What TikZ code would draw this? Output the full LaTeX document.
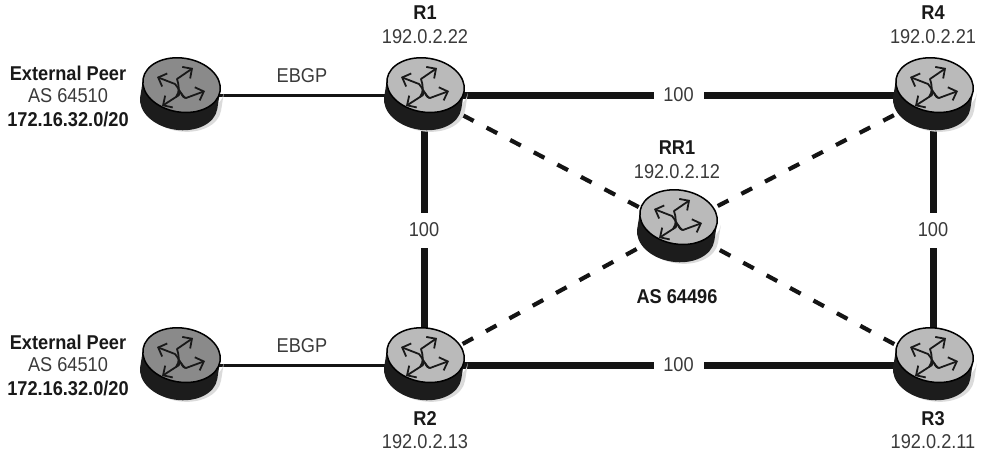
\documentclass[tikz,border=0pt]{standalone}
\usepackage{fontspec}
\setmainfont[FakeStretch=0.91]{Liberation Sans}
\usetikzlibrary{arrows.meta}
\definecolor{routertop}{HTML}{BABABA}
\definecolor{peertop}{HTML}{8A8A8A}
\definecolor{basecol}{HTML}{1C1C1C}
\definecolor{textcol}{HTML}{3A3A3A}
\tikzset{
  routermark/.style={circle,inner sep=0pt,minimum size=60pt},
  trunk/.style={line width=7pt,black!92},
  ebgp/.style={line width=3pt,black!92},
  ibgp/.style={line width=4.2pt,black!92,dash pattern=on 12pt off 14.6pt,dash phase=9.2pt},
  metric/.style={fill=white,inner xsep=0pt,inner ysep=0pt,text=textcol,font=\fontsize{20pt}{22pt}\selectfont},
  hgap/.style={minimum width=50pt,minimum height=12pt},
  vgap/.style={minimum width=40pt,minimum height=35pt},
  plainlabel/.style={font=\fontsize{20pt}{22pt}\selectfont,text=textcol,inner sep=0pt,anchor=center},
  boldlabel/.style={font=\fontsize{20pt}{22pt}\selectfont\bfseries,text=black!90,inner sep=0pt,anchor=center},
  flow/.style={line width=1.8pt,black!90,line join=round,-{Straight Barb[length=7pt,width=14pt,line width=1.8pt]}},
}
\begin{document}
\begin{tikzpicture}[x=1pt,y=-1pt]
\useasboundingbox (0,0) rectangle (985,459);
% router positions
\node[routermark] (p1) at (180,95) {};
\node[routermark] (p2) at (180,365) {};
\node[routermark] (r1) at (424,95) {};
\node[routermark] (r2) at (424,365) {};
\node[routermark] (r3) at (933,365) {};
\node[routermark] (r4) at (933,95) {};
\node[routermark] (rr) at (677,227) {};
% connectors
\draw[ebgp] (p1.center) -- node[pos=.5,yshift=19pt,plainlabel]{EBGP} (r1.center);
\draw[ebgp] (p2.center) -- node[pos=.5,yshift=19pt,plainlabel]{EBGP} (r2.center);
\draw[trunk] (r1.center) -- node[metric,hgap]{100} (r4.center);
\draw[trunk] (r2.center) -- node[metric,hgap]{100} (r3.center);
\draw[trunk] (r1.center) -- node[metric,vgap]{100} (r2.center);
\draw[trunk] (r4.center) -- node[metric,vgap]{100} (r3.center);
\draw[ibgp] (r1.center) -- (rr.center);
\draw[ibgp] (r4.center) -- (rr.center);
\draw[ibgp] (r2.center) -- (rr.center);
\draw[ibgp] (r3.center) -- (rr.center);
% routers
\foreach \n/\c in {p1/peertop,p2/peertop,r1/routertop,r2/routertop,r3/routertop,r4/routertop,rr/routertop}{
  \begin{scope}[shift={(\n.center)}]
    \begin{scope}[rotate=-9]
      \fill[black!14] (-36,-9) -- (-36,9) arc[start angle=180,end angle=0,x radius=39.5,y radius=27] -- (43,-9) arc[start angle=0,end angle=180,x radius=39.5,y radius=27] -- cycle;
      \fill[basecol] (-39,-10) -- (-39,8) arc[start angle=180,end angle=0,x radius=39,y radius=27] -- (39,-10) -- cycle;
      \filldraw[fill=\c,draw=black,line width=1.5pt] (0,-10) ellipse[x radius=39,y radius=27];
    \end{scope}
    \draw[flow] (5,3) .. controls (0,-2) and (-2,-8) .. (-5,-11) -- (-23,-18);
    \draw[flow] (-4,2) .. controls (0,-3) and (-1,-10) .. (-3,-16) -- (13,-27);
    \draw[flow] (1,-2) .. controls (3,2) and (4,3) .. (6,3) -- (25,-4);
    \draw[flow] (0,-3) .. controls (0,0) and (-2,1) .. (-4,2) -- (-18,11);
  \end{scope}
}
% labels
\node[boldlabel] (l1) at (425,13) {R1};
\node[plainlabel] (l2) at (425,37) {192.0.2.22};
\node[boldlabel] (l3) at (933,13) {R4};
\node[plainlabel] (l4) at (933,37) {192.0.2.21};
\node[boldlabel] (l5) at (677,148) {RR1};
\node[plainlabel] (l6) at (677,172) {192.0.2.12};
\node[boldlabel] (l7) at (677,297) {AS 64496};
\node[boldlabel] (l8) at (425,419) {R2};
\node[plainlabel] (l9) at (425,442) {192.0.2.13};
\node[boldlabel] (l10) at (933,419) {R3};
\node[plainlabel] (l11) at (933,442) {192.0.2.11};
\node[boldlabel] (l12) at (68,73) {External Peer};
\node[plainlabel] (l13) at (68,96) {AS 64510};
\node[boldlabel] (l14) at (68,119) {172.16.32.0/20};
\node[boldlabel] (l15) at (68,342) {External Peer};
\node[plainlabel] (l16) at (68,365) {AS 64510};
\node[boldlabel] (l17) at (68,388) {172.16.32.0/20};
\end{tikzpicture}
\end{document}
